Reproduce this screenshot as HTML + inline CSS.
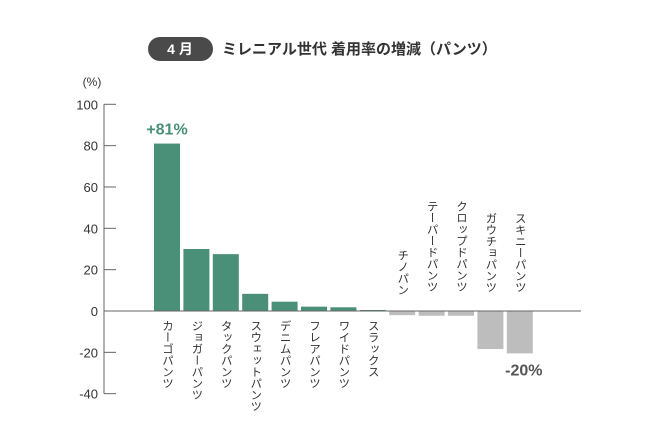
<!DOCTYPE html>
<html><head><meta charset="utf-8">
<style>
body{margin:0;background:#fff;width:650px;height:439px;overflow:hidden;font-family:"Liberation Sans","Noto Sans CJK JP",sans-serif;}
svg text{font-family:"Liberation Sans","Noto Sans CJK JP",sans-serif;}
</style></head>
<body>
<svg id="chart" width="650" height="439" xmlns="http://www.w3.org/2000/svg">
  <g>
    <rect x="148" y="37" width="65" height="24" rx="12" fill="#4a4a4a"/>
    <text x="180" y="54" fill="#fff" font-size="14" font-weight="bold" text-anchor="middle">4 月</text>
    <text x="222" y="54" fill="#333" font-size="15" font-weight="bold">ミレニアル世代 着用率の増減（パンツ）</text>
  </g>
  <text x="92" y="86" font-size="12" fill="#333" text-anchor="middle">(%)</text>
  <g id="axis"></g>
  <g id="bars"></g>
</svg>
<script>
const categories=["カーゴパンツ","ジョガーパンツ","タックパンツ","スウェットパンツ","デニムパンツ","フレアパンツ","ワイドパンツ","スラックス","チノパン","テーパードパンツ","クロップドパンツ","ガウチョパンツ","スキニーパンツ"];
const values=[81,30,27.5,8.3,4.5,2.1,1.8,0.5,-2,-2.3,-2.3,-18.4,-20.5];
const yTicks=[100,80,60,40,20,0,-20,-40];
const yTickLabels=["100","80","60","40","20","0","-20","-40"];
const callouts=[{i:0,text:"+81%"},{i:12,text:"-20%"}];

const NS="http://www.w3.org/2000/svg";
const y0=311, pxPerUnit=2.067, axisX=104, firstBar=154, step=29.4, bw=26;
const yS=v=>y0-v*pxPerUnit;
const xS=i=>firstBar+i*step;
function mk(tag,attrs,parent){const e=document.createElementNS(NS,tag);for(const k in attrs)e.setAttribute(k,attrs[k]);parent.appendChild(e);return e;}
const axis=document.getElementById('axis'), bars=document.getElementById('bars');
const al=mk('line',{x1:axisX,x2:axisX,y1:yS(100),y2:yS(-40),stroke:'#666','stroke-width':1},axis);


yTicks.forEach((t,k)=>{
  const tl=mk('line',{x1:axisX,x2:axisX+12,y1:yS(t),y2:yS(t),stroke:'#666','stroke-width':1},axis);
  
  
  const tx=mk('text',{x:98,y:yS(t)+5,'font-size':13,fill:'#333','text-anchor':'end'},axis);
  tx.textContent=yTickLabels[k];
  
  
});
values.forEach((v,i)=>{
  const r=mk('rect',{x:xS(i),y:Math.min(yS(v),y0),width:bw,height:Math.abs(yS(v)-y0),fill:v>=0?'#4a8f78':'#bdbdbd'},bars);
  
  
  const cx=xS(i)+bw/2;
  const t=mk('text',{x:cx,'font-size':11.5,fill:'#333','writing-mode':'vertical-rl','glyph-orientation-vertical':'0'},bars);
  if(v>=0){t.setAttribute('y',320);}
  else{t.setAttribute('y',298-categories[i].length*12.2);}
  t.textContent=categories[i];
  
  
});
const bl=mk('line',{x1:axisX,x2:581,y1:y0,y2:y0,stroke:'#666','stroke-width':1},bars);


callouts.forEach(c=>{
  const v=values[c.i];
  const t=mk('text',{x:xS(c.i)+bw/2+(v<0?4:0),y:v>=0?yS(v)-9:yS(v)+22,'font-size':16,'font-weight':'bold',fill:v>=0?'#4a8f78':'#555','text-anchor':'middle'},bars);
  t.textContent=c.text;
  
  
});
</script>
</body></html>
